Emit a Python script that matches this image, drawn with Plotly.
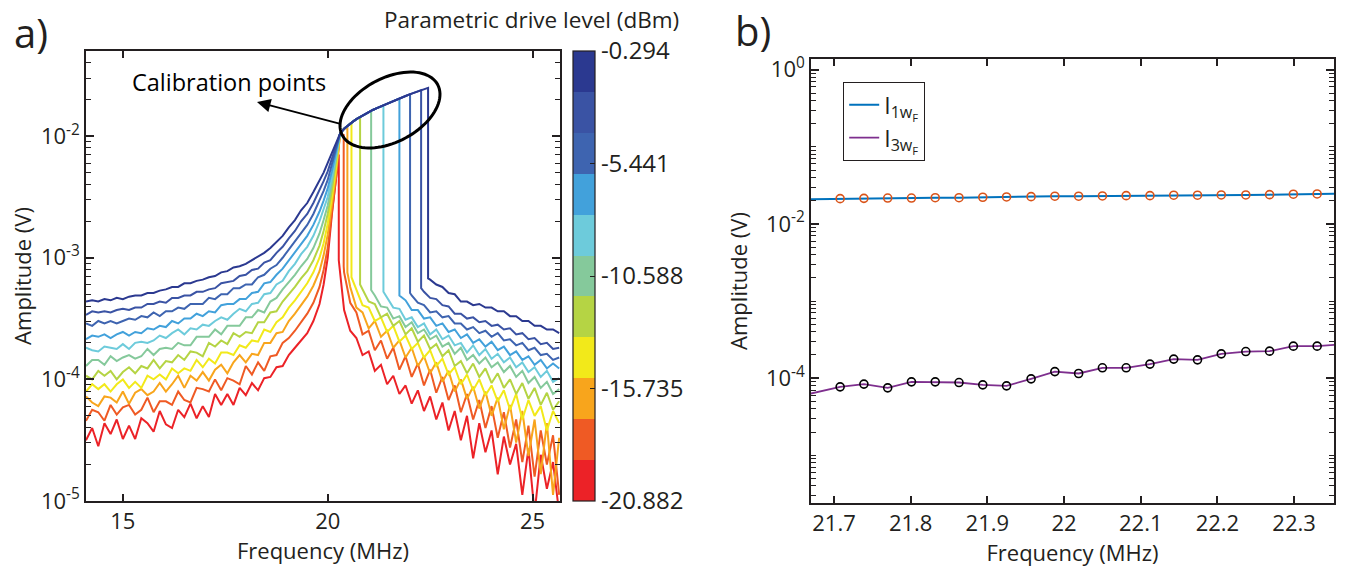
import numpy as np
import plotly.graph_objects as go

W, H = 1355, 576
FONT = "Open Sans"
INK = "#231F20"

# ---------------- panel a data (log10 of amplitude in V) ----------------
drive_dbm = [-0.294, -2.353, -4.411, -6.470, -8.529, -10.588, -12.646, -14.705, -16.764, -18.823, -20.882]
band_colors = ["#2B3990", "#3A53A4", "#3E64B0", "#42A1DB", "#6DCBDB", "#85C99B",
               "#B5D444", "#F2E91A", "#F8A51C", "#EF5A24", "#EC2227"]
cbar_ticks = [-0.294, -5.441, -10.588, -15.735, -20.882]
cbar_ticktext = ["-0.294", "-5.441", "-10.588", "-15.735", "-20.882"]

freq_up = [14.10, 14.25, 14.40, 14.55, 14.70, 14.85, 15.00, 15.15, 15.30, 15.45, 15.60, 15.75,
           15.90, 16.05, 16.20, 16.35, 16.50, 16.65, 16.80, 16.95, 17.10, 17.25, 17.40, 17.55,
           17.70, 17.85, 18.00, 18.15, 18.30, 18.45, 18.60, 18.75, 18.90, 19.05, 19.20, 19.35,
           19.50, 19.65, 19.80, 19.90, 20.00, 20.10, 20.20]

up_lvl01 = [-3.36, -3.35, -3.36, -3.34, -3.35, -3.33, -3.34, -3.32, -3.31, -3.31, -3.29, -3.29, -3.27, -3.26, -3.24, -3.24, -3.21, -3.21, -3.19, -3.18, -3.16, -3.15, -3.12, -3.11, -3.08, -3.07, -3.05, -3.02, -2.99, -2.96, -2.92, -2.87, -2.82, -2.75,
            -2.69, -2.61, -2.55, -2.46, -2.37, -2.30, -2.22, -2.14, -2.06]
up_lvl02 = [-3.47, -3.44, -3.45, -3.44, -3.45, -3.43, -3.42, -3.43, -3.41, -3.41, -3.38, -3.38, -3.36, -3.37, -3.33, -3.33, -3.31, -3.31, -3.28, -3.28, -3.26, -3.25, -3.21, -3.20, -3.19, -3.15, -3.14, -3.10, -3.09, -3.04, -3.02, -2.96, -2.91, -2.84,
            -2.78, -2.70, -2.64, -2.55, -2.45, -2.37, -2.29, -2.19, -2.08]
up_lvl03 = [-3.54, -3.56, -3.52, -3.54, -3.52, -3.54, -3.52, -3.50, -3.51, -3.48, -3.49, -3.45, -3.48, -3.44, -3.44, -3.41, -3.42, -3.38, -3.38, -3.38, -3.33, -3.34, -3.30, -3.30, -3.25, -3.25, -3.22, -3.22, -3.16, -3.14, -3.09, -3.06, -3.00, -2.93,
            -2.87, -2.79, -2.73, -2.64, -2.53, -2.45, -2.36, -2.24, -2.11]
up_lvl04 = [-3.67, -3.64, -3.65, -3.63, -3.66, -3.63, -3.61, -3.64, -3.61, -3.62, -3.58, -3.59, -3.56, -3.57, -3.52, -3.54, -3.50, -3.50, -3.46, -3.48, -3.44, -3.45, -3.39, -3.38, -3.38, -3.34, -3.34, -3.29, -3.28, -3.21, -3.20, -3.14, -3.09, -3.02,
            -2.96, -2.88, -2.82, -2.73, -2.62, -2.53, -2.43, -2.29, -2.14]
up_lvl05 = [-3.74, -3.76, -3.77, -3.73, -3.74, -3.75, -3.71, -3.75, -3.70, -3.69, -3.70, -3.68, -3.64, -3.66, -3.62, -3.59, -3.63, -3.58, -3.59, -3.55, -3.56, -3.52, -3.49, -3.51, -3.46, -3.42, -3.44, -3.38, -3.37, -3.30, -3.29, -3.22, -3.19, -3.11,
            -3.05, -2.97, -2.91, -2.82, -2.70, -2.60, -2.50, -2.34, -2.17]
up_lvl06 = [-3.89, -3.84, -3.84, -3.88, -3.81, -3.85, -3.82, -3.80, -3.83, -3.81, -3.75, -3.80, -3.75, -3.74, -3.75, -3.70, -3.72, -3.72, -3.65, -3.65, -3.65, -3.59, -3.63, -3.56, -3.56, -3.56, -3.49, -3.49, -3.43, -3.45, -3.36, -3.33, -3.26, -3.20,
            -3.14, -3.07, -3.01, -2.92, -2.80, -2.69, -2.57, -2.39, -2.20]
up_lvl07 = [-3.97, -4.00, -3.93, -3.97, -3.93, -4.00, -3.94, -3.90, -3.95, -3.89, -3.91, -3.84, -3.91, -3.85, -3.86, -3.80, -3.84, -3.77, -3.78, -3.81, -3.70, -3.73, -3.68, -3.71, -3.62, -3.65, -3.61, -3.62, -3.53, -3.53, -3.45, -3.44, -3.36, -3.30,
            -3.24, -3.17, -3.11, -3.02, -2.90, -2.78, -2.64, -2.45, -2.23]
up_lvl08 = [-4.10, -4.04, -4.08, -4.04, -4.10, -4.04, -4.00, -4.07, -4.02, -4.07, -3.97, -4.00, -3.96, -4.00, -3.91, -3.95, -3.91, -3.93, -3.84, -3.90, -3.83, -3.87, -3.78, -3.78, -3.80, -3.72, -3.74, -3.68, -3.69, -3.59, -3.61, -3.53, -3.49, -3.41,
            -3.35, -3.28, -3.21, -3.12, -3.00, -2.88, -2.72, -2.51, -2.27]
up_lvl09 = [-4.14, -4.19, -4.22, -4.14, -4.15, -4.19, -4.10, -4.20, -4.11, -4.08, -4.13, -4.10, -4.03, -4.10, -4.04, -3.97, -4.07, -3.97, -4.01, -3.94, -4.01, -3.92, -3.88, -3.95, -3.86, -3.80, -3.86, -3.79, -3.80, -3.70, -3.70, -3.62, -3.61, -3.52,
            -3.46, -3.39, -3.32, -3.23, -3.11, -2.98, -2.81, -2.57, -2.31]
up_lvl10 = [-4.34, -4.25, -4.27, -4.34, -4.21, -4.29, -4.23, -4.21, -4.29, -4.25, -4.15, -4.27, -4.18, -4.18, -4.21, -4.10, -4.17, -4.19, -4.07, -4.08, -4.10, -4.00, -4.09, -3.99, -4.01, -4.04, -3.89, -3.96, -3.86, -3.93, -3.81, -3.80, -3.70, -3.66,
            -3.60, -3.53, -3.46, -3.37, -3.24, -3.10, -2.92, -2.63, -2.36]
up_lvl11 = [-4.50, -4.40, -4.55, -4.36, -4.45, -4.33, -4.49, -4.38, -4.49, -4.32, -4.36, -4.43, -4.26, -4.37, -4.40, -4.25, -4.31, -4.20, -4.32, -4.22, -4.31, -4.12, -4.21, -4.12, -4.21, -4.07, -4.13, -4.03, -4.09, -3.99, -3.98, -3.90, -3.89, -3.80,
            -3.74, -3.68, -3.62, -3.52, -3.38, -3.22, -3.00, -2.65, -2.38]

# upper (bistable) branch shared by all drive levels
freq_bb = [20.30, 20.40, 20.50, 20.60, 20.70, 20.80, 20.90, 21.00, 21.10, 21.20, 21.30, 21.45, 21.60, 21.75, 21.90, 22.05, 22.20, 22.35]
amp_bb = [-1.98, -1.94, -1.91, -1.885, -1.86, -1.84, -1.82, -1.80, -1.785, -1.77, -1.755, -1.735, -1.71, -1.69, -1.67, -1.65, -1.63, -1.615]

jump_freq = [22.45, 22.28, 22.01, 21.75, 21.36, 21.06, 20.79, 20.58, 20.48, 20.39, 20.27]
jump_top = [-1.603, -1.622, -1.655, -1.69, -1.75, -1.795, -1.842, -1.89, -1.93, -1.99, -2.15]
jump_low = [-3.17, -3.25, -3.29, -3.31, -3.28, -3.265, -3.22, -3.16, -3.12, -3.07, -3.02]

freq_down = [20.40, 20.55, 20.70, 20.85, 21.00, 21.15, 21.30, 21.45, 21.60, 21.75, 21.90, 22.05,
             22.20, 22.35, 22.50, 22.65, 22.80, 22.95, 23.10, 23.25, 23.40, 23.55, 23.70, 23.85,
             24.00, 24.15, 24.30, 24.45, 24.60, 24.75, 24.90, 25.05, 25.20, 25.35, 25.50, 25.65]

# each list covers the last len(list) points of freq_down
down_lvl01 = [-3.18, -3.22, -3.24, -3.29, -3.30, -3.36, -3.36, -3.39, -3.38, -3.41, -3.41, -3.44, -3.44, -3.48, -3.48, -3.52, -3.52, -3.56, -3.56, -3.59, -3.59, -3.62]
down_lvl02 = [-3.28, -3.33, -3.34, -3.39, -3.40, -3.46, -3.46, -3.50, -3.49, -3.53, -3.52, -3.56, -3.55, -3.59, -3.58, -3.63, -3.62, -3.67, -3.66, -3.71, -3.70, -3.75, -3.74]
down_lvl03 = [-3.31, -3.37, -3.39, -3.45, -3.44, -3.49, -3.48, -3.54, -3.54, -3.59, -3.57, -3.62, -3.60, -3.65, -3.62, -3.68, -3.67, -3.72, -3.70, -3.76, -3.74, -3.80, -3.79, -3.84, -3.82]
down_lvl04 = [-3.35, -3.43, -3.43, -3.50, -3.49, -3.56, -3.54, -3.61, -3.59, -3.66, -3.63, -3.70, -3.67, -3.73, -3.69, -3.76, -3.73, -3.80, -3.77, -3.84, -3.81, -3.88, -3.84, -3.91, -3.87, -3.91]
down_lvl05 = [-3.33, -3.41, -3.42, -3.51, -3.49, -3.57, -3.54, -3.63, -3.59, -3.67, -3.64, -3.72, -3.70, -3.78, -3.72, -3.80, -3.75, -3.83, -3.79, -3.86, -3.82, -3.90, -3.86, -3.94, -3.90, -3.98, -3.93, -4.02, -3.99]
down_lvl06 = [-3.31, -3.40, -3.41, -3.50, -3.48, -3.57, -3.53, -3.62, -3.59, -3.67, -3.64, -3.73, -3.70, -3.79, -3.74, -3.84, -3.80, -3.87, -3.82, -3.90, -3.86, -3.94, -3.89, -3.98, -3.93, -4.03, -3.98, -4.07, -4.02, -4.12, -4.08]
down_lvl07 = [-3.26, -3.36, -3.38, -3.49, -3.46, -3.56, -3.52, -3.63, -3.58, -3.69, -3.64, -3.75, -3.71, -3.81, -3.76, -3.89, -3.85, -3.95, -3.87, -3.98, -3.91, -4.03, -3.95, -4.07, -4.00, -4.12, -4.03, -4.16, -4.07, -4.21, -4.11, -4.25, -4.18]
down_lvl08 = [-3.27, -3.39, -3.41, -3.52, -3.49, -3.61, -3.56, -3.69, -3.64, -3.75, -3.70, -3.82, -3.76, -3.89, -3.83, -3.96, -3.90, -4.04, -3.96, -4.09, -4.00, -4.13, -4.05, -4.18, -4.09, -4.25, -4.12, -4.33, -4.17, -4.30, -4.22, -4.42, -4.26, -4.36]
down_lvl09 = [-3.24, -3.41, -3.45, -3.58, -3.52, -3.65, -3.60, -3.74, -3.68, -3.82, -3.74, -3.89, -3.81, -3.95, -3.86, -4.02, -3.93, -4.10, -4.00, -4.16, -4.06, -4.24, -4.10, -4.30, -4.15, -4.41, -4.21, -4.52, -4.26, -4.63, -4.33, -4.78, -4.36, -4.95, -4.48]
down_lvl10 = [-3.12, -3.37, -3.45, -3.63, -3.60, -3.76, -3.68, -3.83, -3.74, -3.92, -3.81, -3.98, -3.87, -4.05, -3.92, -4.11, -3.98, -4.17, -4.05, -4.27, -4.12, -4.33, -4.17, -4.40, -4.22, -4.48, -4.27, -4.56, -4.33, -4.68, -4.38, -4.80, -4.42, -4.70, -4.46, -4.95]
down_lvl11 = [-3.43, -3.60, -3.66, -3.80, -3.77, -3.93, -3.88, -4.04, -3.97, -4.12, -4.05, -4.20, -4.09, -4.26, -4.14, -4.33, -4.19, -4.42, -4.26, -4.50, -4.30, -4.65, -4.36, -4.60, -4.42, -4.78, -4.47, -4.70, -4.53, -4.95, -4.57, -5.10, -4.62, -4.90, -4.68, -5.10]

UP = [up_lvl01, up_lvl02, up_lvl03, up_lvl04, up_lvl05, up_lvl06, up_lvl07, up_lvl08, up_lvl09, up_lvl10, up_lvl11]
DOWN = [down_lvl01, down_lvl02, down_lvl03, down_lvl04, down_lvl05, down_lvl06, down_lvl07, down_lvl08, down_lvl09, down_lvl10, down_lvl11]

# ---------------- panel b data ----------------
fit_freq = [21.708, 21.739, 21.770, 21.801, 21.832, 21.863, 21.894, 21.925, 21.957, 21.988, 22.019,
            22.050, 22.081, 22.112, 22.143, 22.174, 22.205, 22.237, 22.268, 22.299, 22.330]
i1_points = [0.0213, 0.0215, 0.0217, 0.0217, 0.0219, 0.0219, 0.0222, 0.0224, 0.0226, 0.0229, 0.0229,
             0.0231, 0.0233, 0.0233, 0.0236, 0.0236, 0.0238, 0.0238, 0.0240, 0.0243, 0.0245]
i3_points = [7.71e-5, 8.36e-5, 7.48e-5, 8.95e-5, 8.95e-5, 8.77e-5, 8.18e-5, 7.94e-5, 9.79e-5, 1.216e-4, 1.148e-4,
             1.361e-4, 1.361e-4, 1.521e-4, 1.766e-4, 1.726e-4, 2.065e-4, 2.213e-4, 2.239e-4, 2.600e-4, 2.600e-4]
line_freq = [21.660] + fit_freq + [22.360]
i1_line = [0.0209] + i1_points + [0.0247]
i3_line = [6.0e-5] + i3_points + [2.73e-4]

# ---------------- figure ----------------
def px_x(p):
    return p / W


def px_y(p):
    return 1 - p / H


fig = go.Figure()

for i in reversed(range(len(UP))):
    f = list(freq_up)
    a = list(UP[i])
    for fb, ab in zip(freq_bb, amp_bb):
        if freq_up[-1] < fb < jump_freq[i] - 0.02:
            f.append(fb)
            a.append(ab)
    f += [jump_freq[i], jump_freq[i]]
    a += [jump_top[i], jump_low[i]]
    f += freq_down[len(freq_down) - len(DOWN[i]):]
    a += DOWN[i]
    fig.add_trace(go.Scatter(
        x=f, y=[10 ** v for v in a], mode="lines",
        line=dict(color=band_colors[i], width=2),
        name=f"{drive_dbm[i]} dBm", showlegend=False,
        xaxis="x", yaxis="y"))

# discrete colour bar
n = len(band_colors)
cscale = []
for k, c in enumerate(reversed(band_colors)):
    cscale += [[k / n, c], [(k + 1) / n, c]]
fig.add_trace(go.Scatter(
    x=[None], y=[None], mode="markers", showlegend=False, xaxis="x", yaxis="y",
    marker=dict(color=[drive_dbm[0]], colorscale=cscale, cmin=drive_dbm[-1], cmax=drive_dbm[0],
                showscale=True,
                colorbar=dict(x=px_x(573), xanchor="left", xpad=0, ypad=0,
                              y=px_y(276), yanchor="middle", len=450, lenmode="pixels",
                              thickness=22, outlinewidth=1.2, outlinecolor=INK,
                              tickmode="array", tickvals=cbar_ticks, ticktext=cbar_ticktext,
                              ticks="inside", ticklen=5, tickwidth=1.3, tickcolor=INK,
                              tickfont=dict(family=FONT, size=24, color=INK)))))

# panel b
fig.add_trace(go.Scatter(x=line_freq, y=i1_line, mode="lines", line=dict(color="#0072BD", width=2),
                         name="I<sub>1w<sub>F</sub></sub>", xaxis="x2", yaxis="y2"))
fig.add_trace(go.Scatter(x=line_freq, y=i3_line, mode="lines", line=dict(color="#7E2F8E", width=1.8),
                         name="I<sub>3w<sub>F</sub></sub>", xaxis="x2", yaxis="y2"))
fig.add_trace(go.Scatter(x=fit_freq, y=i1_points, mode="markers", showlegend=False,
                         marker=dict(symbol="circle-open", size=8, color="#D95319", line=dict(width=1.6)),
                         xaxis="x2", yaxis="y2"))
fig.add_trace(go.Scatter(x=fit_freq, y=i3_points, mode="markers", showlegend=False,
                         marker=dict(symbol="circle-open", size=8, color="black", line=dict(width=1.6)),
                         xaxis="x2", yaxis="y2"))
# invisible carriers for the tick-only overlay axes (minor log ticks)
fig.add_trace(go.Scatter(x=[20], y=[1e-3], mode="markers", marker=dict(opacity=0), showlegend=False,
                         hoverinfo="skip", xaxis="x", yaxis="y3"))
fig.add_trace(go.Scatter(x=[22], y=[1e-3], mode="markers", marker=dict(opacity=0), showlegend=False,
                         hoverinfo="skip", xaxis="x2", yaxis="y4"))


def sup(e):
    return f"10<sup>{e}</sup>"


tickfont = dict(family=FONT, size=22, color=INK)
titlefont = dict(family=FONT, size=22, color=INK)
axis_common = dict(showline=True, linecolor=INK, linewidth=1.5, mirror="ticks", ticks="inside",
                   tickcolor=INK, tickwidth=1.5, showgrid=False, zeroline=False, tickfont=tickfont)
overlay_common = dict(type="log", tickmode="linear", tick0=0, dtick="D1", ticks="inside", ticklen=5,
                      tickcolor=INK, tickwidth=1.3, showticklabels=False, showgrid=False,
                      zeroline=False, showline=True, linecolor=INK, linewidth=1.5, mirror="ticks",
                      side="left")

fig.update_layout(
    width=W, height=H, template="none",
    margin=dict(l=0, r=0, t=0, b=0),
    paper_bgcolor="white", plot_bgcolor="white",
    font=dict(family=FONT, color=INK),
    xaxis=dict(domain=[px_x(86), px_x(560)], anchor="y", range=[14.1, 25.67],
               tickmode="linear", tick0=15, dtick=5, ticklen=7,
               title=dict(text="Frequency (MHz)", font=titlefont, standoff=1), **axis_common),
    yaxis=dict(domain=[px_y(501), px_y(51)], anchor="x", type="log", range=[-5, -1.30],
               tickmode="array", tickvals=[1e-5, 1e-4, 1e-3, 1e-2],
               ticktext=[sup("-5"), sup("-4"), sup("-3"), sup("-2")], ticklen=8,
               title=dict(text="Amplitude (V)", font=titlefont, standoff=3), **axis_common),
    yaxis3=dict(overlaying="y", anchor="x", range=[-5, -1.30], **overlay_common),
    xaxis2=dict(domain=[px_x(811), px_x(1334)], anchor="y2", range=[21.67, 22.352],
                tickmode="linear", tick0=21.7, dtick=0.1, ticklen=7,
                title=dict(text="Frequency (MHz)", font=titlefont, standoff=8), **axis_common),
    yaxis2=dict(domain=[px_y(503), px_y(59)], anchor="x2", type="log", range=[-5.62, 0.14],
                tickmode="array", tickvals=[1e-4, 1e-2, 1],
                ticktext=[sup("-4"), sup("-2"), sup("0")], ticklen=8,
                title=dict(text="Amplitude (V)", font=titlefont, standoff=12), **axis_common),
    yaxis4=dict(overlaying="y2", anchor="x2", range=[-5.62, 0.14], **overlay_common),
    legend=dict(x=px_x(843), y=px_y(82), xanchor="left", yanchor="top",
                bordercolor=INK, borderwidth=1.2, bgcolor="white",
                font=dict(family=FONT, size=23, color=INK), itemwidth=30, tracegroupgap=0),
    showlegend=True,
)

ann = []
ann.append(dict(text="a)", x=px_x(31), y=px_y(32), xref="paper", yref="paper", showarrow=False,
                font=dict(family=FONT, size=40, color=INK), xanchor="center", yanchor="middle"))
ann.append(dict(text="b)", x=px_x(753), y=px_y(30), xref="paper", yref="paper", showarrow=False,
                font=dict(family=FONT, size=40, color=INK), xanchor="center", yanchor="middle"))
ann.append(dict(text="Parametric drive level (dBm)", x=px_x(531), y=px_y(19), xref="paper", yref="paper",
                showarrow=False, font=dict(family=FONT, size=22.5, color=INK), xanchor="center", yanchor="middle"))
ann.append(dict(text="Calibration points", x=px_x(229), y=px_y(82), xref="paper", yref="paper",
                showarrow=False, font=dict(family=FONT, size=23.5, color="black"), xanchor="center", yanchor="middle"))
ann.append(dict(text="", x=px_x(257), y=px_y(102), xref="paper", yref="paper",
                ax=341 - 257, ay=124 - 102, axref="pixel", ayref="pixel",
                showarrow=True, arrowhead=2, arrowsize=1.5, arrowwidth=1.8, arrowcolor="black", standoff=0))
fig.update_layout(annotations=ann)

# calibration ellipse (annotation shape, pixel geometry -> paper coords)
t = np.linspace(0, 2 * np.pi, 90)
cx, cy, ra, rb, phi = 390, 110, 54, 32, np.deg2rad(28)
ex = cx + ra * np.cos(t) * np.cos(phi) - rb * np.sin(t) * np.sin(phi)
ey = cy - (ra * np.cos(t) * np.sin(phi) + rb * np.sin(t) * np.cos(phi))
path = "M " + " L ".join(f"{px_x(xx):.5f},{px_y(yy):.5f}" for xx, yy in zip(ex, ey)) + " Z"
fig.add_shape(type="path", path=path, xref="paper", yref="paper", line=dict(color="black", width=3))

fig.write_html("out.html")
